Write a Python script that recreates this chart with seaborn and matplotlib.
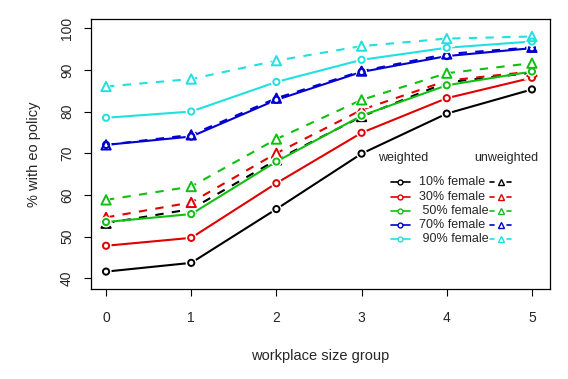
import matplotlib
matplotlib.use("Agg")
import matplotlib.pyplot as plt
import seaborn as sns
import pandas as pd

# workplace size groups
size_group = [0, 1, 2, 3, 4, 5]
groups = ["10% female", "30% female", "50% female", "70% female", "90% female"]
legend_labels = ["10% female", "30% female", " 50% female", "70% female", " 90% female"]
colors = ["#000000", "#E00000", "#10C010", "#0000D0", "#20E0E0"]

# % with eo policy, weighted estimates
weighted = {
    "10% female": [41.6, 43.7, 56.6, 69.9, 79.5, 85.3],
    "30% female": [47.8, 49.7, 62.8, 74.9, 83.2, 88.1],
    "50% female": [53.5, 55.4, 68.0, 79.0, 86.3, 89.6],
    "70% female": [72.0, 74.0, 82.8, 89.5, 93.3, 95.2],
    "90% female": [78.5, 80.0, 87.1, 92.4, 95.3, 96.8],
}
# unweighted estimates
unweighted = {
    "10% female": [53.2, 56.6, 68.4, 78.8, 87.0, 89.3],
    "30% female": [54.6, 58.2, 70.0, 80.4, 87.4, 89.6],
    "50% female": [58.8, 62.0, 73.4, 82.8, 89.2, 91.6],
    "70% female": [72.0, 74.4, 83.2, 89.7, 93.8, 95.4],
    "90% female": [86.0, 87.8, 92.2, 95.7, 97.5, 98.0],
}

rows = []
for g in groups:
    for x, v in zip(size_group, weighted[g]):
        rows.append({"size": x, "pct": v, "group": g, "type": "weighted"})
    for x, v in zip(size_group, unweighted[g]):
        rows.append({"size": x, "pct": v, "group": g, "type": "unweighted"})
df = pd.DataFrame(rows)

sns.set_theme(style="white")
plt.rcParams["font.family"] = ["Liberation Sans", "DejaVu Sans"]

fig = plt.figure(figsize=(5.68, 3.79), dpi=100)
ax = fig.add_axes([0.1597, 0.2375, 0.8083, 0.7124])

palette = dict(zip(groups, colors))

# each series: line, then white halo under markers (R type="b" gaps), then open markers
for i, g in enumerate(groups):
    for t, dash, mk, ms in [("weighted", None, "o", 20), ("unweighted", (4, 4), "^", 45)]:
        sub = df[(df["group"] == g) & (df["type"] == t)]
        sns.lineplot(data=sub, x="size", y="pct", color=palette[g], lw=1.5,
                     ax=ax, legend=False, zorder=2 + i)
        if dash:
            ax.lines[-1].set_dashes(dash)
        sns.scatterplot(data=sub, x="size", y="pct", marker=mk, s=ms * 3.2,
                        color="white", edgecolor="none", ax=ax, legend=False,
                        zorder=2.1 + i)
        sns.scatterplot(data=sub, x="size", y="pct", marker=mk, s=ms,
                        facecolor="none", edgecolor=palette[g], linewidth=1.4,
                        ax=ax, legend=False, zorder=2.2 + i)

ax.set_xlim(-0.18, 5.21)
ax.set_ylim(37.43, 102.2)
ax.set_xticks(size_group)
ax.set_yticks([40, 50, 60, 70, 80, 90, 100])
ax.tick_params(axis="both", direction="out", length=5, width=0.8, color="black",
               labelsize=10, bottom=True, left=True)
ax.tick_params(axis="x", pad=11)
ax.tick_params(axis="y", pad=7)
for lab in ax.get_yticklabels():
    lab.set_rotation(90)
    lab.set_va("center")
for s in ax.spines.values():
    s.set_color("black")
    s.set_linewidth(0.9)

ax.set_xlabel("workplace size group", fontsize=10.5, labelpad=17)
ax.set_ylabel("% with eo policy", fontsize=10.5, labelpad=14)

# legend, drawn by hand in figure pixel coordinates (R style)
W, H = 568, 379
def fx(px):
    return px / W
def fy(py):
    return 1 - py / H

fig.text(fx(378), fy(158), "weighted", fontsize=9, va="center", ha="left")
fig.text(fx(474), fy(158), "unweighted", fontsize=9, va="center", ha="left")
row_y = [182, 196.5, 210.7, 224.8, 239]
for i, g in enumerate(groups):
    y = fy(row_y[i])
    fig.add_artist(plt.Line2D([fx(391), fx(410)], [y, y], color=colors[i], lw=1.2))
    fig.add_artist(plt.Line2D([fx(400)], [y], marker="o", ms=3.5, mfc="white",
                              mec=colors[i], mew=1.0))
    fig.text(fx(419), y, legend_labels[i], fontsize=9, va="center", ha="left")
    fig.add_artist(plt.Line2D([fx(490), fx(494)], [y, y], color=colors[i], lw=1.2))
    fig.add_artist(plt.Line2D([fx(507), fx(511)], [y, y], color=colors[i], lw=1.2))
    fig.add_artist(plt.Line2D([fx(500.5)], [y], marker="^", ms=4, mfc="white",
                              mec=colors[i], mew=1.0))

fig.savefig("out.png", dpi=100, facecolor="white")
